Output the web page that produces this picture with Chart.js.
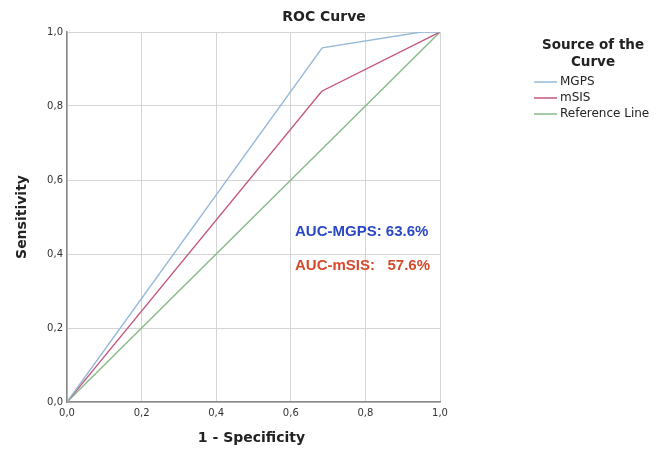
<!DOCTYPE html>
<html>
<head>
<meta charset="utf-8">
<script src="https://cdn.jsdelivr.net/npm/chart.js@4.4.0/dist/chart.umd.min.js"></script>
<style>
  html, body { margin: 0; padding: 0; background: #fff; }
  #wrap { width: 665px; height: 452px; }
</style>
</head>
<body>
<div id="wrap"><canvas id="roc" width="665" height="452"></canvas></div>
<script>
// ---- data ----
const tickValues = [0, 0.2, 0.4, 0.6, 0.8, 1.0];
const mgpsX = [0, 0.684, 0.95, 1.0];
const mgpsY = [0, 0.957, 1.0, 1.0];
const msisX = [0, 0.683, 1.0];
const msisY = [0, 0.84, 1.0];
const refX = [0, 1];
const refY = [0, 1];
const seriesLabels = ['MGPS', 'mSIS', 'Reference Line'];
const seriesColors = ['#95b8da', '#c4577a', '#86bb86'];
const aucNotes = ['AUC-MGPS: 63.6%', 'AUC-mSIS:   57.6%'];
const aucColors = ['#2a48c6', '#d64a2c'];

const toPts = (xs, ys) => xs.map((x, i) => ({ x: x, y: ys[i] }));
const fmt = v => v.toFixed(1).replace('.', ',');

// title, axis titles, legend and AUC notes
const extras = {
    id: 'extras',
    afterDraw(chart) {
        const ctx = chart.ctx;
        const a = chart.chartArea;
        ctx.save();
        ctx.fillStyle = '#222';
        ctx.textAlign = 'center';
        ctx.textBaseline = 'middle';
        ctx.font = 'bold 14px "DejaVu Sans"';
        ctx.fillText('ROC Curve', 324, 17);

        ctx.font = 'bold 14px "DejaVu Sans"';
        ctx.fillText('1 - Specificity', (a.left + a.right) / 2 - 2, 438);

        ctx.save();
        ctx.translate(22, (a.top + a.bottom) / 2);
        ctx.rotate(-Math.PI / 2);
        ctx.fillText('Sensitivity', 0, 0);
        ctx.restore();

        // legend
        ctx.font = 'bold 13.5px "DejaVu Sans"';
        ctx.fillText('Source of the', 593, 45);
        ctx.fillText('Curve', 593, 62);
        ctx.font = '12px "DejaVu Sans"';
        ctx.textAlign = 'left';
        chart.data.datasets.forEach((ds, i) => {
            const y = 82 + i * 16;
            ctx.strokeStyle = ds.borderColor;
            ctx.lineWidth = 1.5;
            ctx.beginPath();
            ctx.moveTo(534, y);
            ctx.lineTo(557, y);
            ctx.stroke();
            ctx.fillStyle = '#222';
            ctx.fillText(ds.label, 560, y);
        });

        // AUC notes
        ctx.font = 'bold 15px "Liberation Sans"';
        ctx.textAlign = 'left';
        aucNotes.forEach((t, i) => {
            ctx.fillStyle = aucColors[i];
            ctx.fillText(t, 295, 232 + i * 34);
        });
        ctx.restore();
    }
};

new Chart(document.getElementById('roc'), {
    type: 'line',
    data: {
        datasets: [
            { label: seriesLabels[0], data: toPts(mgpsX, mgpsY), borderColor: seriesColors[0] },
            { label: seriesLabels[1], data: toPts(msisX, msisY), borderColor: seriesColors[1] },
            { label: seriesLabels[2], data: toPts(refX, refY), borderColor: seriesColors[2] }
        ].map(d => Object.assign(d, { borderWidth: 1.4, pointRadius: 0, fill: false, tension: 0 }))
    },
    options: {
        responsive: false,
        animation: false,
        layout: { padding: { left: 0, right: 225, top: 32, bottom: 0 } },
        plugins: { legend: { display: false }, tooltip: { enabled: false } },
        scales: {
            x: {
                type: 'linear', min: 0, max: 1,
                afterBuildTicks: s => { s.ticks = tickValues.map(v => ({ value: v })); },
                afterFit: s => { s.height = 50; },
                grid: { color: '#d4d4d4', drawTicks: false },
                border: { color: '#8a8a8a', width: 1.5 },
                ticks: { callback: v => fmt(v), font: { family: 'DejaVu Sans', size: 10 }, color: '#333', padding: 5, maxRotation: 0 }
            },
            y: {
                type: 'linear', min: 0, max: 1,
                afterBuildTicks: s => { s.ticks = tickValues.map(v => ({ value: v })); },
                afterFit: s => { s.width = 67; },
                grid: { color: '#d4d4d4', drawTicks: false },
                border: { color: '#8a8a8a', width: 1.5 },
                ticks: { callback: v => fmt(v), font: { family: 'DejaVu Sans', size: 10 }, color: '#333', padding: 4 }
            }
        }
    },
    plugins: [extras]
});
</script>
</body>
</html>
